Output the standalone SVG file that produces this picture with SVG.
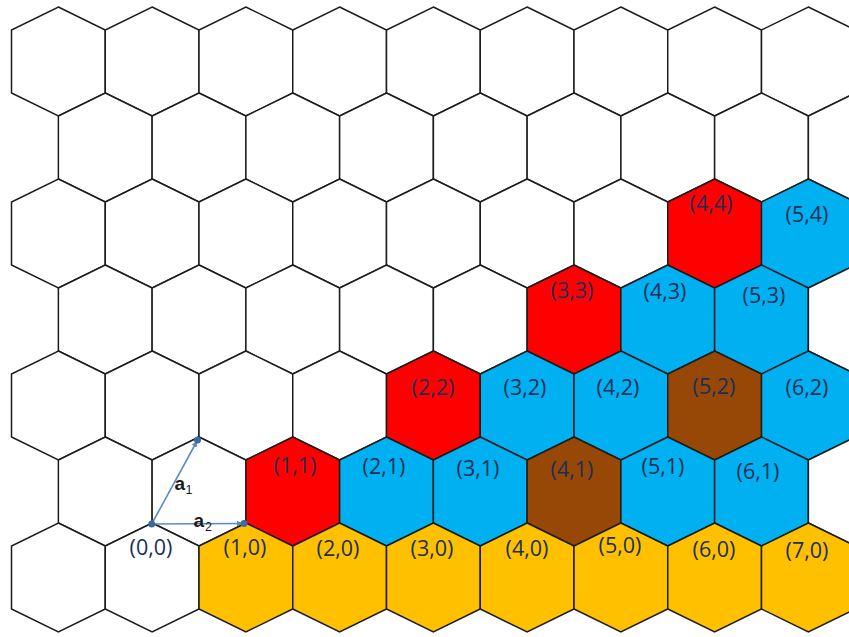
<svg xmlns="http://www.w3.org/2000/svg" xmlns:xlink="http://www.w3.org/1999/xlink" width="849" height="637" viewBox="0 0 849 637">
<style>
.h{stroke:#1c1c1c;stroke-width:1.5;stroke-linejoin:miter}
.w{fill:#fff}.y{fill:#FFC000}.b{fill:#00B0F0}.r{fill:#FF0000}.n{fill:#974806}
.t{font-family:"Open Sans","Liberation Sans",sans-serif;font-size:21.5px;fill:#1B2F55;text-anchor:middle}
.v{font-family:"Liberation Sans",Arial,sans-serif;font-weight:bold;font-size:19px;fill:#1a1a1a}
.s{font-family:"Liberation Sans",Arial,sans-serif;font-size:12.5px;fill:#1a1a1a}
.ar{stroke:#5B8BC4;stroke-width:1.6;fill:none}
.dot{fill:#3E6A9E}
</style>
<defs>
<polygon id="hx" points="0,-54.5 46.875,-31.5 46.875,31.5 0,54.5 -46.875,31.5 -46.875,-31.5"/>
<marker id="ah" viewBox="0 0 10 10" refX="9" refY="5" markerWidth="6" markerHeight="6" orient="auto" markerUnits="userSpaceOnUse"><path d="M0,0 L10,5 L0,10 z" fill="#5B8BC4"/></marker>
</defs>
<rect width="849" height="637" fill="#fff"/>
<g id="grid">
<!-- row 0 -->
<g id="h0-0"><use href="#hx" x="58.375" y="61.5" class="h w"/></g>
<g id="h0-1"><use href="#hx" x="152.125" y="61.5" class="h w"/></g>
<g id="h0-2"><use href="#hx" x="245.875" y="61.5" class="h w"/></g>
<g id="h0-3"><use href="#hx" x="339.625" y="61.5" class="h w"/></g>
<g id="h0-4"><use href="#hx" x="433.375" y="61.5" class="h w"/></g>
<g id="h0-5"><use href="#hx" x="527.125" y="61.5" class="h w"/></g>
<g id="h0-6"><use href="#hx" x="620.875" y="61.5" class="h w"/></g>
<g id="h0-7"><use href="#hx" x="714.625" y="61.5" class="h w"/></g>
<g id="h0-8"><use href="#hx" x="808.375" y="61.5" class="h w"/></g>
<!-- row 1 -->
<g id="h1-0"><use href="#hx" x="105.25" y="147.5" class="h w"/></g>
<g id="h1-1"><use href="#hx" x="199" y="147.5" class="h w"/></g>
<g id="h1-2"><use href="#hx" x="292.75" y="147.5" class="h w"/></g>
<g id="h1-3"><use href="#hx" x="386.5" y="147.5" class="h w"/></g>
<g id="h1-4"><use href="#hx" x="480.25" y="147.5" class="h w"/></g>
<g id="h1-5"><use href="#hx" x="574" y="147.5" class="h w"/></g>
<g id="h1-6"><use href="#hx" x="667.75" y="147.5" class="h w"/></g>
<g id="h1-7"><use href="#hx" x="761.5" y="147.5" class="h w"/></g>
<g id="h1-8"><use href="#hx" x="855.25" y="147.5" class="h w"/></g>
<!-- row 2 -->
<g id="h2-0"><use href="#hx" x="58.375" y="233.5" class="h w"/></g>
<g id="h2-1"><use href="#hx" x="152.125" y="233.5" class="h w"/></g>
<g id="h2-2"><use href="#hx" x="245.875" y="233.5" class="h w"/></g>
<g id="h2-3"><use href="#hx" x="339.625" y="233.5" class="h w"/></g>
<g id="h2-4"><use href="#hx" x="433.375" y="233.5" class="h w"/></g>
<g id="h2-5"><use href="#hx" x="527.125" y="233.5" class="h w"/></g>
<g id="h2-6"><use href="#hx" x="620.875" y="233.5" class="h w"/></g>
<g id="h2-7"><use href="#hx" x="714.625" y="233.5" class="h r"/><text class="t" x="711" y="211">(4,4)</text></g>
<g id="h2-8"><use href="#hx" x="808.375" y="233.5" class="h b"/><text class="t" x="807" y="222">(5,4)</text></g>
<!-- row 3 -->
<g id="h3-0"><use href="#hx" x="105.25" y="319.5" class="h w"/></g>
<g id="h3-1"><use href="#hx" x="199" y="319.5" class="h w"/></g>
<g id="h3-2"><use href="#hx" x="292.75" y="319.5" class="h w"/></g>
<g id="h3-3"><use href="#hx" x="386.5" y="319.5" class="h w"/></g>
<g id="h3-4"><use href="#hx" x="480.25" y="319.5" class="h w"/></g>
<g id="h3-5"><use href="#hx" x="574" y="319.5" class="h r"/><text class="t" x="572" y="298">(3,3)</text></g>
<g id="h3-6"><use href="#hx" x="667.75" y="319.5" class="h b"/><text class="t" x="665" y="299">(4,3)</text></g>
<g id="h3-7"><use href="#hx" x="761.5" y="319.5" class="h b"/><text class="t" x="764" y="303">(5,3)</text></g>
<g id="h3-8"><use href="#hx" x="855.25" y="319.5" class="h w"/></g>
<!-- row 4 -->
<g id="h4-0"><use href="#hx" x="58.375" y="405.5" class="h w"/></g>
<g id="h4-1"><use href="#hx" x="152.125" y="405.5" class="h w"/></g>
<g id="h4-2"><use href="#hx" x="245.875" y="405.5" class="h w"/></g>
<g id="h4-3"><use href="#hx" x="339.625" y="405.5" class="h w"/></g>
<g id="h4-4"><use href="#hx" x="433.375" y="405.5" class="h r"/><text class="t" x="433" y="395">(2,2)</text></g>
<g id="h4-5"><use href="#hx" x="527.125" y="405.5" class="h b"/><text class="t" x="525" y="395">(3,2)</text></g>
<g id="h4-6"><use href="#hx" x="620.875" y="405.5" class="h b"/><text class="t" x="618" y="395">(4,2)</text></g>
<g id="h4-7"><use href="#hx" x="714.625" y="405.5" class="h n"/><text class="t" x="714" y="394">(5,2)</text></g>
<g id="h4-8"><use href="#hx" x="808.375" y="405.5" class="h b"/><text class="t" x="807" y="395">(6,2)</text></g>
<!-- row 5 -->
<g id="h5-0"><use href="#hx" x="105.25" y="491.5" class="h w"/></g>
<g id="h5-1"><use href="#hx" x="199" y="491.5" class="h w"/></g>
<g id="h5-2"><use href="#hx" x="292.75" y="491.5" class="h r"/><text class="t" x="295" y="473">(1,1)</text></g>
<g id="h5-3"><use href="#hx" x="386.5" y="491.5" class="h b"/><text class="t" x="384" y="474">(2,1)</text></g>
<g id="h5-4"><use href="#hx" x="480.25" y="491.5" class="h b"/><text class="t" x="478" y="476">(3,1)</text></g>
<g id="h5-5"><use href="#hx" x="574" y="491.5" class="h n"/><text class="t" x="572" y="477">(4,1)</text></g>
<g id="h5-6"><use href="#hx" x="667.75" y="491.5" class="h b"/><text class="t" x="663" y="474">(5,1)</text></g>
<g id="h5-7"><use href="#hx" x="761.5" y="491.5" class="h b"/><text class="t" x="758" y="479">(6,1)</text></g>
<g id="h5-8"><use href="#hx" x="855.25" y="491.5" class="h w"/></g>
<!-- row 6 -->
<g id="h6-0"><use href="#hx" x="58.375" y="577.5" class="h w"/></g>
<g id="h6-1"><use href="#hx" x="152.125" y="577.5" class="h w"/><text class="t" x="151" y="555">(0,0)</text></g>
<g id="h6-2"><use href="#hx" x="245.875" y="577.5" class="h y"/><text class="t" x="245" y="555">(1,0)</text></g>
<g id="h6-3"><use href="#hx" x="339.625" y="577.5" class="h y"/><text class="t" x="338" y="556">(2,0)</text></g>
<g id="h6-4"><use href="#hx" x="433.375" y="577.5" class="h y"/><text class="t" x="432" y="556">(3,0)</text></g>
<g id="h6-5"><use href="#hx" x="527.125" y="577.5" class="h y"/><text class="t" x="527" y="556">(4,0)</text></g>
<g id="h6-6"><use href="#hx" x="620.875" y="577.5" class="h y"/><text class="t" x="620" y="553">(5,0)</text></g>
<g id="h6-7"><use href="#hx" x="714.625" y="577.5" class="h y"/><text class="t" x="714" y="557">(6,0)</text></g>
<g id="h6-8"><use href="#hx" x="808.375" y="577.5" class="h y"/><text class="t" x="807" y="558">(7,0)</text></g>
</g>
<g id="connectors">
<line class="ar" x1="151.7" y1="524" x2="196.8" y2="441.5" marker-end="url(#ah)"/>
<line class="ar" x1="151.7" y1="524" x2="242" y2="523.5" marker-end="url(#ah)"/>
<circle class="dot" cx="151.7" cy="524" r="3.5"/>
<circle class="dot" cx="197.5" cy="440" r="3.5"/>
<circle class="dot" cx="244" cy="523.5" r="3.5"/>
</g>
<g id="labels">
<text class="v" x="174.5" y="490">a</text><text class="s" x="185.5" y="493.5">1</text>
<text class="v" x="193.5" y="526.7">a</text><text class="s" x="205" y="530.5">2</text>
</g>
</svg>
